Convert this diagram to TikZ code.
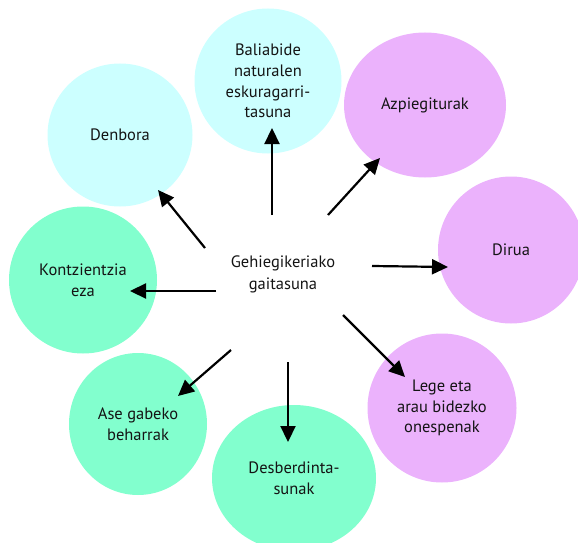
\documentclass[tikz,border=0pt]{standalone}
\usepackage{fontspec}
\setmainfont{PT Sans}
\usetikzlibrary{shapes.geometric,arrows.meta}
\definecolor{cyanc}{HTML}{CCFFFF}
\definecolor{pinkc}{HTML}{EBB2FC}
\definecolor{greenc}{HTML}{82FFCE}
\definecolor{txt}{HTML}{141414}
\tikzset{
  bubble/.style={ellipse,draw=none,inner sep=0pt,align=center,text=txt,
    font=\fontsize{16.5}{20.8}\selectfont},
  arr/.style={line width=2.2pt,-{Triangle[length=16pt,width=15pt]}},
}
\begin{document}
\begin{tikzpicture}[x=1pt,y=-1pt]
\useasboundingbox (0,0) rectangle (578,543);
\begin{scope}
\clip (0,0) rectangle (578,543);
\node[bubble,fill=cyanc,minimum width=147pt,minimum height=145pt] (bal) at (268,81) {Baliabide\\naturalen\\eskuragarri-\\tasuna};
\node[bubble,fill=pinkc,minimum width=162pt,minimum height=145pt] (azp) at (425,105) {Azpiegiturak};
\node[bubble,fill=pinkc,minimum width=146pt,minimum height=147pt] (dir) at (511,250) {Dirua};
\node[bubble,fill=pinkc,minimum width=149pt,minimum height=149pt] (leg) at (442,408) {Lege eta\\arau bidezko\\onespenak};
\node[bubble,fill=greenc,minimum width=164pt,minimum height=146pt] (des) at (294,478) {Desberdinta-\\sunak};
\node[bubble,fill=greenc,minimum width=138pt,minimum height=142pt] (ase) at (138,424) {Ase gabeko\\beharrak};
\node[bubble,fill=greenc,minimum width=148pt,minimum height=147pt] (kon) at (83,280) {Kontzientzia\\eza};
\node[bubble,fill=cyanc,minimum width=145pt,minimum height=143pt] (den) at (120,135) {Denbora};
\end{scope}
\node[bubble,font=\fontsize{16.5}{22}\selectfont] (gehi) at (283,274) {Gehiegikeriako\\gaitasuna};
% arrow ends
\coordinate (s1) at (272,215); \coordinate (t1) at (272,128);
\coordinate (s2) at (328,215); \coordinate (t2) at (380,158);
\coordinate (s3) at (372,266); \coordinate (t3) at (448,267);
\coordinate (s4) at (343,315); \coordinate (t4) at (405,377);
\coordinate (s5) at (288,362); \coordinate (t5) at (288,442);
\coordinate (s6) at (231,350); \coordinate (t6) at (178,396);
\coordinate (s7) at (216,291); \coordinate (t7) at (130,291);
\coordinate (s8) at (205,248); \coordinate (t8) at (158,190);
\foreach \i in {1,...,8} \draw[arr] (s\i) -- (t\i);
\end{tikzpicture}
\end{document}
